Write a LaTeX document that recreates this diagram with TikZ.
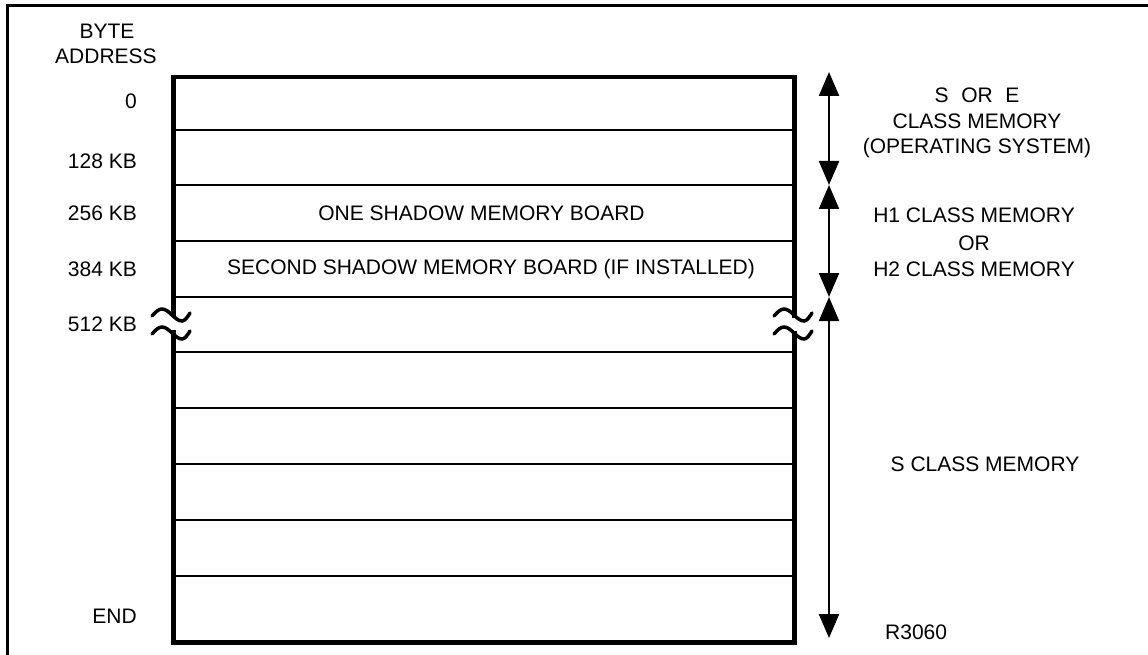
\documentclass[tikz,border=0pt]{standalone}
\usepackage{fontspec}
\setmainfont{Liberation Sans}
\usetikzlibrary{arrows.meta}
\begin{document}
\begin{tikzpicture}[x=1pt,y=-1pt,
  lbl/.style={font=\fontsize{21}{25}\selectfont, inner sep=0pt},
  addr/.style={lbl, anchor=east},
  frameline/.style={line width=3pt},
  boxline/.style={line width=4.5pt},
  rowline/.style={line width=2.2pt},
  dimarrow/.style={line width=2.2pt, {Triangle[width=20pt,length=24pt]}-{Triangle[width=20pt,length=24pt]}},
  brk/.style={line width=3.5pt, line cap=round}]
\useasboundingbox (0,0) rectangle (1148,655);
% outer frame (top and left only)
\draw[frameline] (7,655) -- (7,6) -- (1148,6);
% memory box
\node[draw, boxline, minimum width=621pt, minimum height=565pt, anchor=north west, inner sep=0pt] (mem) at (171,75) {};
\foreach \yy in {130,185,241,297,352,408,464,520,576}
  \draw[rowline] (171,\yy) -- (792,\yy);
% breaks
\fill[white] (165,317) rectangle (177,330);
\fill[white] (786,318) rectangle (798,331);
\draw[brk] (152,316) sin (162,309) cos (172,315) sin (182,321) cos (190,313);
\draw[brk] (152,334) sin (162,327) cos (172,333) sin (182,339) cos (190,331);
\draw[brk] (774,316) sin (784,309) cos (794,315) sin (804,321) cos (812,313);
\draw[brk] (774,334) sin (784,327) cos (794,333) sin (804,339) cos (812,331);
% header
\node[lbl] (byte) at (107,31) {BYTE};
\node[lbl] (address) at (106,56) {ADDRESS};
% addresses
\node[addr] (a0) at (137,101) {0};
\node[addr] (a128) at (137,161) {128 KB};
\node[addr] (a256) at (137,213) {256 KB};
\node[addr] (a384) at (137,269) {384 KB};
\node[addr] (a512) at (137,324) {512 KB};
\node[addr] (aend) at (137,616) {END};
% row texts
\node[lbl] (one) at (481.5,213) {ONE SHADOW MEMORY BOARD};
\node[lbl] (second) at (491,269) {SECOND SHADOW MEMORY BOARD (IF INSTALLED)};
% arrows
\coordinate (p0) at (829,72);
\coordinate (p1) at (829,185);
\coordinate (p2) at (829,297);
\coordinate (p3) at (829,638);
\draw[dimarrow] (p0) -- (p1);
\draw[dimarrow] (p1) -- (p2);
\draw[dimarrow] (p2) -- (p3);
% right labels
\node[lbl] (soe) at (977,95) {S\hspace{0.6em}OR\hspace{0.6em}E};
\node[lbl] (cm1) at (977,121) {CLASS MEMORY};
\node[lbl] (os) at (977,148) {(OPERATING SYSTEM)};
\node[lbl] (h1) at (974,215) {H1 CLASS MEMORY};
\node[lbl] (or) at (974,243) {OR};
\node[lbl] (h2) at (974,269) {H2 CLASS MEMORY};
\node[lbl] (scm) at (985,464) {S CLASS MEMORY};
\node[lbl, anchor=west] (ref) at (885,632) {R3060};
\end{tikzpicture}
\end{document}
